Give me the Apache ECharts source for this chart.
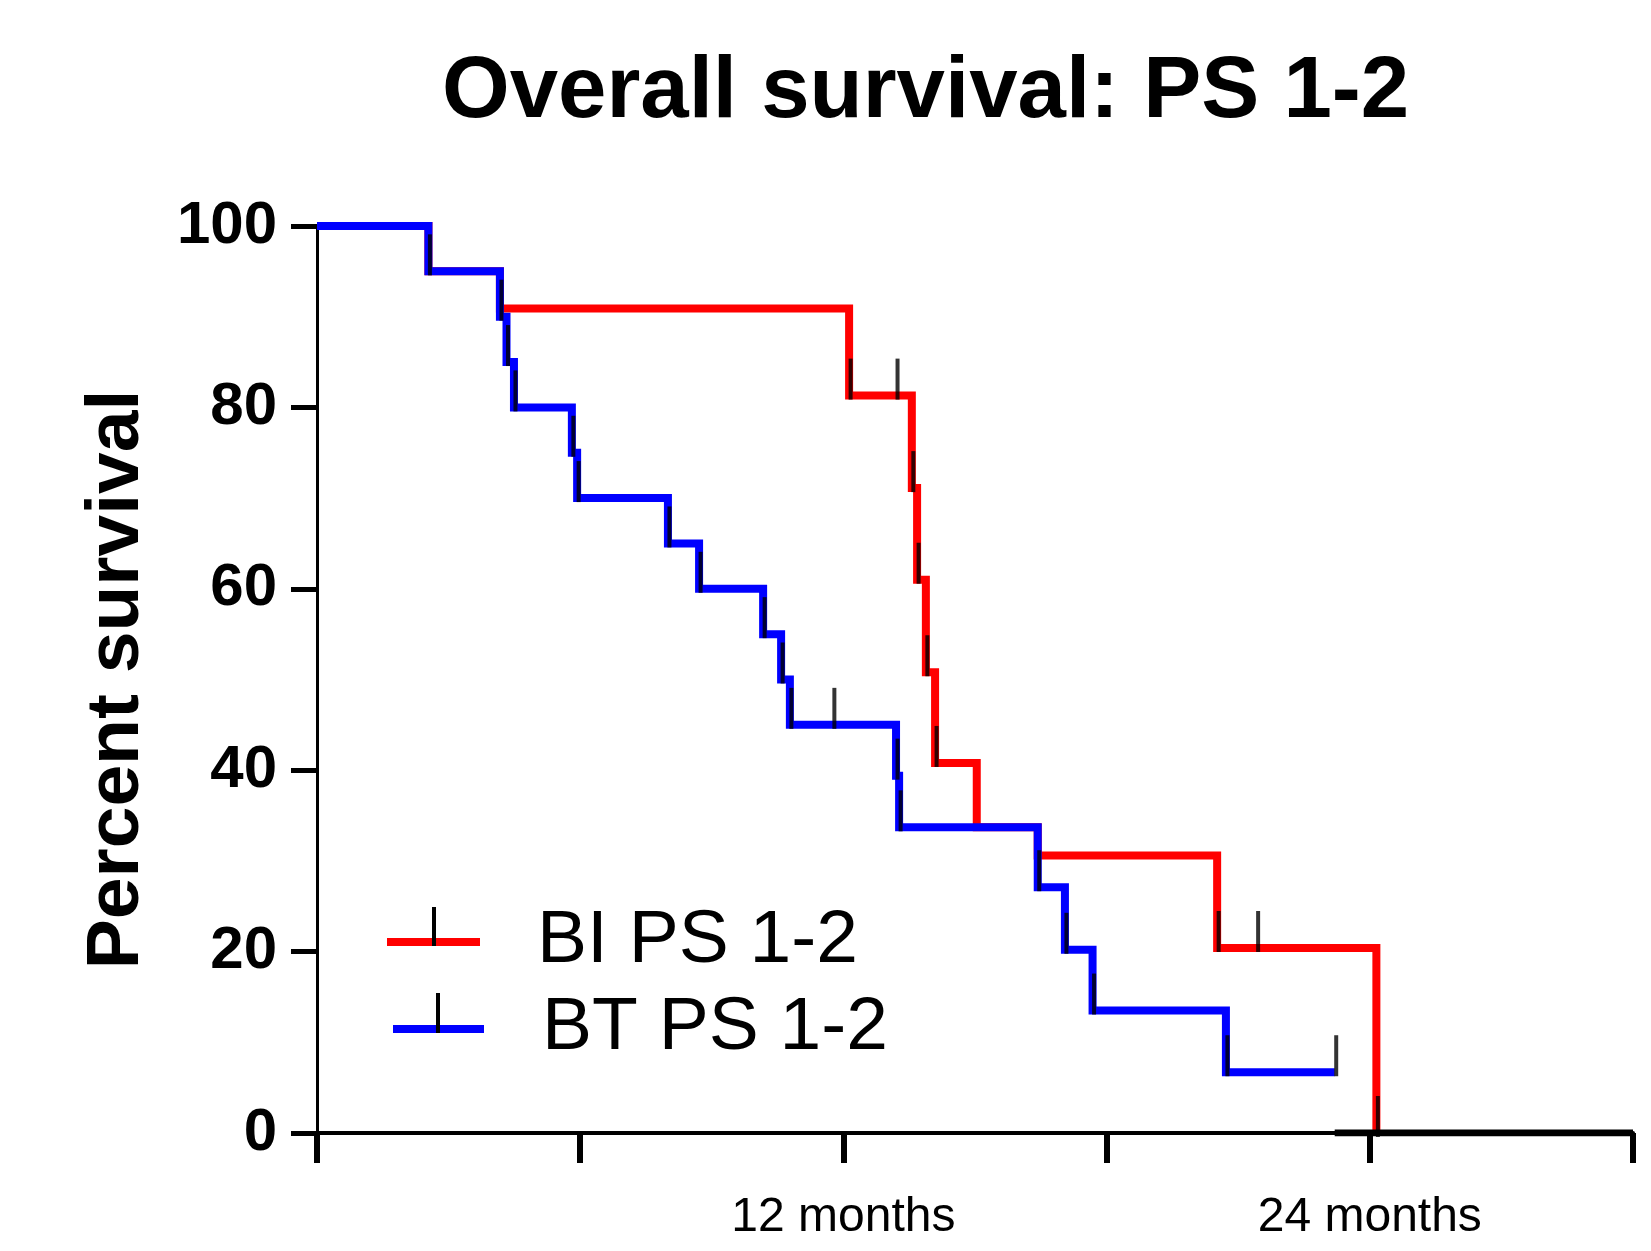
<!DOCTYPE html>
<html>
<head>
<meta charset="utf-8">
<title>Overall survival: PS 1-2</title>
<script src="https://cdn.jsdelivr.net/npm/echarts@6/dist/echarts.min.js"></script>
<style>
    html, body { margin: 0; padding: 0; background: #fff; }
    #chart { width: 1651px; height: 1251px; }
</style>
</head>
<body>
<div id="chart"></div>
<script>
// 数据：月份 / 生存率（%）
var seriesNames = ["BI PS 1-2", "BT PS 1-2"];

// BI 组 (红)
var redTimes = [0, 2.54, 4.17, 12.13, 13.56, 13.68, 13.88, 14.09, 15.04, 16.43, 20.52, 24.15];
var redSurvival = [100, 95, 90.9, 81.3, 71.1, 61.0, 50.8, 40.8, 33.7, 30.6, 20.4, 0];
var redCensorTimes = [12.13, 13.2, 13.56, 13.68, 13.88, 14.09, 20.52, 21.42, 24.15];
var redCensorValues = [81.3, 81.3, 71.1, 61.0, 50.8, 40.8, 20.4, 20.4, 0];

// BT 组 (蓝)
var blueTimes = [0, 2.54, 4.17, 4.32, 4.49, 5.81, 5.93, 8.0, 8.71, 10.17, 10.58, 10.78, 13.2, 13.27, 16.43, 17.05, 17.68, 20.72, 23.2];
var blueSurvival = [100, 95, 90, 85, 80, 75, 70, 65, 60, 55, 50, 45, 39.4, 33.7, 27.1, 20.2, 13.5, 6.7, 6.7];
var blueCensorTimes = [2.54, 4.17, 4.32, 4.49, 5.81, 5.93, 8.0, 8.71, 10.17, 10.58, 10.78, 11.76, 13.2, 13.27, 16.43, 17.05, 17.68, 20.72, 23.2];
var blueCensorValues = [95, 90, 85, 80, 75, 70, 65, 60, 55, 50, 45, 45, 39.4, 33.7, 27.1, 20.2, 13.5, 6.7, 6.7];

// 横轴末段加粗的 0 线
var baselineSegment = [23.2, 30];

// 刻度标签
var xLabelValues = [12, 24];
var xLabelTexts = ["12 months", "24 months"];

var FONT = "Liberation Sans";

function pairs(xs, ys) {
    var out = [];
    for (var i = 0; i < xs.length; i++) {
        out.push([xs[i], ys[i]]);
    }
    return out;
}

var chart = echarts.init(document.getElementById("chart"), null, { renderer: "canvas" });

var option = {
    backgroundColor: "#fff",
    animation: false,
    title: {
        text: "Overall survival: PS 1-2",
        left: 437,
        top: 45,
        textStyle: { fontFamily: FONT, fontSize: 87, fontWeight: "bold", color: "#000" }
    },
    grid: { left: 317, right: 18, top: 226, bottom: 118, containLabel: false },
    xAxis: {
        type: "value",
        min: 0,
        max: 30,
        interval: 6,
        splitLine: { show: false },
        axisLine: { show: true, onZero: false, lineStyle: { color: "#000", width: 4 } },
        axisTick: { show: true, inside: false, length: 30, lineStyle: { color: "#000", width: 6 } },
        axisLabel: {
            margin: 61,
            color: "#000",
            fontFamily: FONT,
            fontSize: 48,
            formatter: function(v) {
                var i = xLabelValues.indexOf(v);
                return i >= 0 ? xLabelTexts[i] : "";
            }
        }
    },
    yAxis: {
        type: "value",
        min: 0,
        max: 100,
        interval: 20,
        name: "Percent survival",
        nameLocation: "middle",
        nameRotate: 90,
        nameGap: 162,
        nameTextStyle: { fontFamily: FONT, fontSize: 75, fontWeight: "bold", color: "#000" },
        splitLine: { show: false },
        axisLine: { show: true, onZero: false, lineStyle: { color: "#000", width: 3 } },
        axisTick: { show: true, inside: false, length: 26, lineStyle: { color: "#000", width: 5 } },
        axisLabel: { margin: 40, color: "#000", fontFamily: FONT, fontSize: 60, fontWeight: "bold" }
    },
    series: [
        {
            name: seriesNames[0],
            type: "line",
            step: "end",
            symbol: "none",
            data: pairs(redTimes, redSurvival),
            lineStyle: { color: "#ff0000", width: 8, join: "miter", cap: "butt" },
            z: 2
        },
        {
            name: seriesNames[1],
            type: "line",
            step: "end",
            symbol: "none",
            data: pairs(blueTimes, blueSurvival),
            lineStyle: { color: "#0000ff", width: 8, join: "miter", cap: "butt" },
            z: 3
        },
        {
            name: "baseline",
            type: "line",
            symbol: "none",
            data: [[baselineSegment[0], 0], [baselineSegment[1], 0]],
            lineStyle: { color: "#000", width: 7 },
            z: 4
        },
        {
            name: seriesNames[0] + " censored",
            type: "scatter",
            symbol: "rect",
            symbolSize: [4, 41],
            symbolOffset: [1.5, -16.5],
            data: pairs(redCensorTimes, redCensorValues),
            itemStyle: { color: "#000" },
            clip: false,
            z: 5
        },
        {
            name: seriesNames[1] + " censored",
            type: "scatter",
            symbol: "rect",
            symbolSize: [4, 41],
            symbolOffset: [1.5, -16.5],
            data: pairs(blueCensorTimes, blueCensorValues),
            itemStyle: { color: "#000" },
            clip: false,
            z: 5
        }
    ],
    // 图例
    graphic: [
        { type: "line", shape: { x1: 387, y1: 942, x2: 480, y2: 942 }, style: { stroke: "#ff0000", lineWidth: 8 } },
        { type: "line", shape: { x1: 434, y1: 907, x2: 434, y2: 946 }, style: { stroke: "#000", lineWidth: 4 } },
        { type: "text", x: 537, y: 941, style: { text: seriesNames[0], font: "75px " + FONT, fill: "#000", verticalAlign: "middle" } },
        { type: "line", shape: { x1: 393, y1: 1029, x2: 484, y2: 1029 }, style: { stroke: "#0000ff", lineWidth: 8 } },
        { type: "line", shape: { x1: 438, y1: 993, x2: 438, y2: 1033 }, style: { stroke: "#000", lineWidth: 4 } },
        { type: "text", x: 542, y: 1028, style: { text: seriesNames[1], font: "75px " + FONT, fill: "#000", verticalAlign: "middle" } }
    ]
};

chart.setOption(option);
</script>
</body>
</html>
